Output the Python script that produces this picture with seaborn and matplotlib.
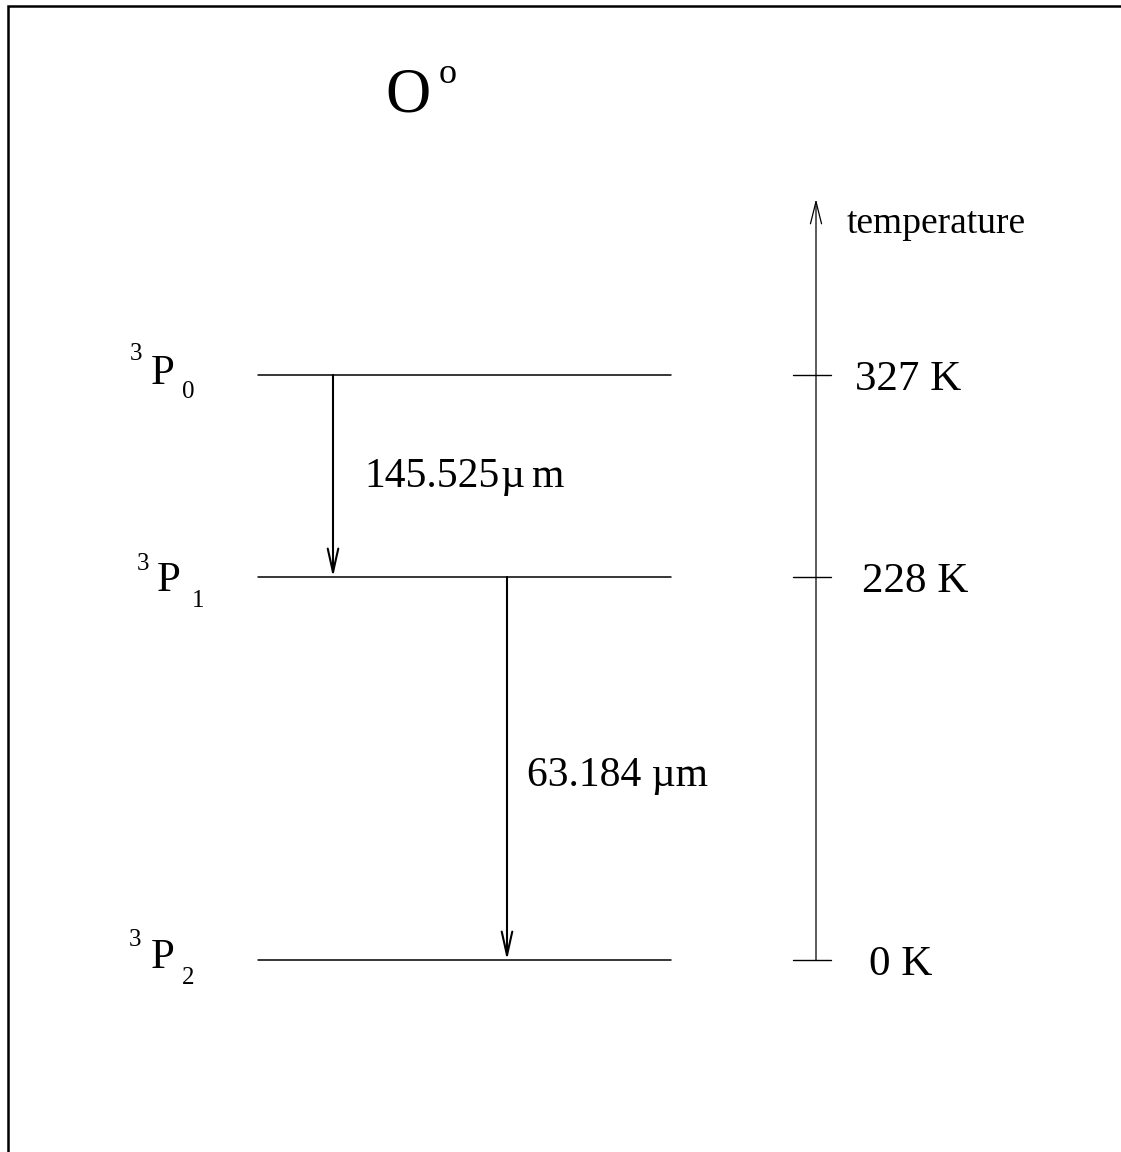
import matplotlib
matplotlib.use("Agg")
import matplotlib.pyplot as plt
import seaborn as sns
import pandas as pd

sns.set_theme(style="white")
plt.rcParams['font.family'] = ['Liberation Serif', 'DejaVu Serif']
plt.rcParams['text.color'] = 'black'

# ---- data ----
species = "O"
species_sup = "o"
level_terms = ["3P0", "3P1", "3P2"]
level_J = ["0", "1", "2"]
level_temps_K = [327, 228, 0]
level_ypos = [375, 577, 960]          # drawn position of each level (diagram, not to scale)
transitions_from = [0, 1]
transitions_to = [1, 2]
transition_labels = ["145.525", "63.184 "]
axis_label = "temperature"

W, H = 1121, 1152
fig = plt.figure(figsize=(W / 100, H / 100), dpi=100)
ax = fig.add_axes([0, 0, 1, 1])

# frame (clipped at right and bottom)
ax.plot([8, 8, W + 10], [H + 10, 6, 6], color="black", lw=1.8, clip_on=False,
        solid_joinstyle="miter")

# levels via seaborn
lev_x0, lev_x1 = 258, 671
df = pd.DataFrame({
    "x": [lev_x0, lev_x1] * len(level_ypos),
    "y": [y for y in level_ypos for _ in range(2)],
    "lvl": [t for t in level_terms for _ in range(2)],
})
sns.lineplot(data=df, x="x", y="y", units="lvl", estimator=None, color="black",
             lw=1.1, ax=ax, legend=False, sort=False)
ax.set_xlabel("")
ax.set_ylabel("")
ax.set_xlim(0, W)
ax.set_ylim(H, 0)
ax.axis("off")

# transitions
arrow_x = [333, 507]
for f, t, ax_x in zip(transitions_from, transitions_to, arrow_x):
    ax.annotate("", xy=(ax_x, level_ypos[t]), xytext=(ax_x, level_ypos[f]),
                arrowprops=dict(arrowstyle="->,head_length=1.7,head_width=0.38",
                                mutation_scale=10, color="black", lw=1.5,
                                shrinkA=0, shrinkB=0))

fs_lab = 30
ax.text(364, 487, transition_labels[0], fontsize=fs_lab, ha="left", va="baseline", color="black")
ax.text(501, 487, "\u00b5", fontsize=fs_lab, ha="left", va="baseline", color="black")
ax.text(531, 487, "m", fontsize=fs_lab, ha="left", va="baseline", color="black")
ax.text(527, 786, transition_labels[1] + "\u00b5m", fontsize=30, ha="left", va="baseline", color="black")

# level labels
sup_pos = [(130, 360), (137, 570), (129, 946)]
P_pos = [(151, 384), (157, 591), (151, 968)]
sub_pos = [(182, 398), (192, 607), (182, 984)]
for i in range(len(level_terms)):
    ax.text(*sup_pos[i], "3", fontsize=18, ha="left", va="baseline", color="black")
    ax.text(*P_pos[i], "P", fontsize=31, ha="left", va="baseline", color="black")
    ax.text(*sub_pos[i], level_J[i], fontsize=18, ha="left", va="baseline", color="black")

# temperature axis
tx = 816
ax.annotate("", xy=(tx, 199), xytext=(tx, level_ypos[-1]),
            arrowprops=dict(arrowstyle="->,head_length=1.6,head_width=0.4",
                            mutation_scale=10, color="black", lw=0.9,
                            shrinkA=0, shrinkB=0))
temp_x = [855, 862, 869]
for y, T, xx in zip(level_ypos, level_temps_K, temp_x):
    ax.plot([793, 831], [y, y], color="black", lw=1.0)
    ax.text(xx, y + 15, f"{T} K", fontsize=31, ha="left", va="baseline", color="black")
ax.text(847, 233, axis_label, fontsize=27, ha="left", va="baseline", color="black")

# title
ax.text(385, 112, species, fontsize=45, ha="left", va="baseline", color="black")
ax.text(439, 83, species_sup, fontsize=26, ha="left", va="baseline", color="black")

fig.savefig("out.png", dpi=100, facecolor="white")
